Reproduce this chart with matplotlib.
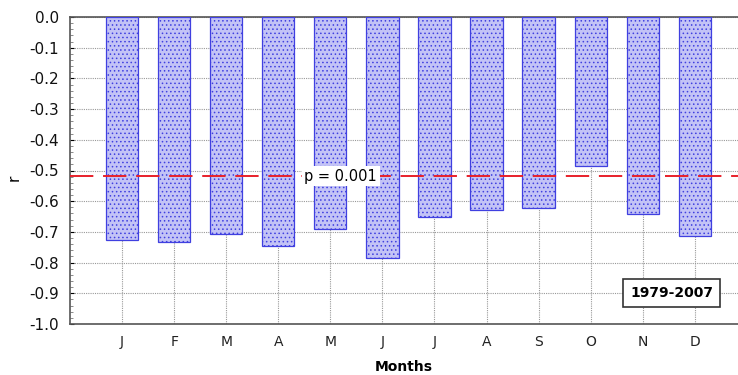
import matplotlib
matplotlib.use("Agg")
import matplotlib.pyplot as plt
import numpy as np
from matplotlib.ticker import MultipleLocator

months = ["J", "F", "M", "A", "M", "J", "J", "A", "S", "O", "N", "D"]
r_values = [-0.726, -0.733, -0.707, -0.746, -0.690, -0.785, -0.651, -0.629, -0.622, -0.485, -0.642, -0.713]
p_threshold = -0.518
p_label = "p = 0.001"
period_label = "1979-2007"
yticks = [0.0, -0.1, -0.2, -0.3, -0.4, -0.5, -0.6, -0.7, -0.8, -0.9, -1.0]

plt.rcParams['hatch.color'] = '#a8a8ee'
plt.rcParams['hatch.linewidth'] = 0.6

fig = plt.figure(figsize=(7.38, 3.75), dpi=100)
ax = fig.add_axes([70/738, 1-324/375, 1-70/738, (324-17)/375])

x = np.arange(1, len(months) + 1)
bars = ax.bar(x, r_values, width=0.62, color="#c3c3f6", edgecolor="#4040e0", linewidth=0.9,
              hatch="....", zorder=3)

ax.axhline(p_threshold, color="#e8202a", linestyle=(0, (12, 5)), linewidth=1.4, zorder=4)
ax.text(5.2, p_threshold, p_label, ha="center", va="center", fontsize=10.5,
        bbox=dict(facecolor="white", edgecolor="none", pad=2), zorder=5)
ax.text(11.56, -0.90, period_label, ha="center", va="center", fontsize=10, fontweight="bold",
        bbox=dict(facecolor="white", edgecolor="#333333", linewidth=1.2, pad=5), zorder=5)

ax.set_xlim(0, 12.83)
ax.set_ylim(-1.0, 0.0)
ax.set_xticks(x)
ax.set_xticklabels(months, fontsize=10, color="#222222")
ax.set_yticks(yticks)
ax.set_yticklabels([f"{v:.1f}".replace("\u2212", "-") for v in yticks], fontsize=11, color="#111111")
ax.yaxis.set_minor_locator(MultipleLocator(0.02))
ax.tick_params(axis="x", length=0, pad=8)
ax.tick_params(axis="y", which="major", length=3, direction="in", pad=8)
ax.tick_params(axis="y", which="minor", length=2, direction="in", color="#777777")
ax.grid(True, which="major", color="#999999", linestyle=(0, (1, 1)), linewidth=0.8, zorder=0)

ax.spines["right"].set_visible(False)
for s in ["top", "bottom", "left"]:
    ax.spines[s].set_color("#555555")
    ax.spines[s].set_linewidth(1.2)

ax.set_xlabel("Months", fontsize=10, fontweight="bold", labelpad=8)
ax.set_ylabel("r", fontsize=11)
ax.yaxis.set_label_coords(-0.072, 0.475)

fig.savefig("out.png", dpi=100)
